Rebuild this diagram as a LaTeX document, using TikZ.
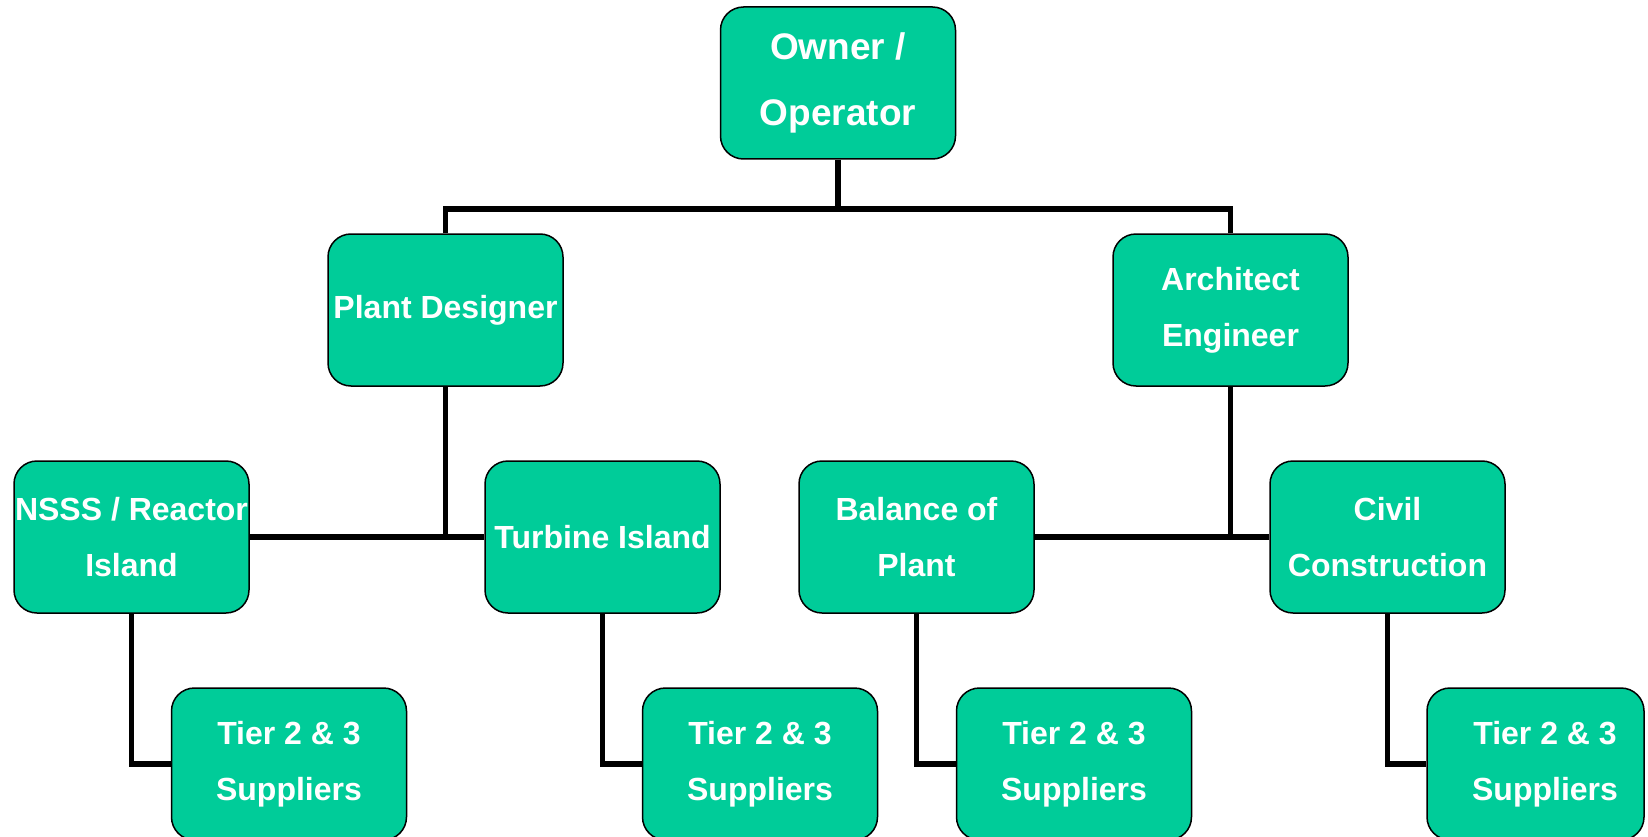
\documentclass[tikz,border=0pt]{standalone}
\usepackage{fontspec}
\setmainfont{Liberation Sans}
\definecolor{boxgreen}{RGB}{0,204,153}
\begin{document}
\begin{tikzpicture}[x=1pt,y=-1pt,
  orgbox/.style={draw=black, line width=1.5pt, fill=boxgreen, rounded corners=23pt,
    minimum width=235pt, minimum height=152pt, inner sep=0pt, align=center,
    text=white, font=\fontsize{32}{56}\selectfont\bfseries},
  bigtext/.style={font=\fontsize{37}{66}\selectfont\bfseries},
  conn/.style={draw=black, line width=5.5pt}]
\useasboundingbox (0,0) rectangle (1648,837);
\node[orgbox, bigtext] (own) at (838,83) {Owner /\\Operator};
\node[orgbox] (pd) at (445.5,310) {Plant Designer};
\node[orgbox] (ae) at (1230.5,310) {Architect\\Engineer};
\node[orgbox] (nsss) at (131.5,537) {NSSS / Reactor\\Island};
\node[orgbox] (turb) at (602.5,537) {Turbine Island};
\node[orgbox] (bop) at (916.5,537) {Balance of\\Plant};
\node[orgbox] (civ) at (1387.5,537) {Civil\\Construction};
\node[orgbox] (t1) at (289,764) {Tier 2 \& 3\\Suppliers};
\node[orgbox] (t2) at (760,764) {Tier 2 \& 3\\Suppliers};
\node[orgbox] (t3) at (1074,764) {Tier 2 \& 3\\Suppliers};
\node[orgbox, minimum width=217pt] (t4) at (1535.5,764) {};
\node[align=center, text=white, inner sep=0pt, font=\fontsize{32}{56}\selectfont\bfseries] (t4lab) at (1545,764) {Tier 2 \& 3\\Suppliers};
\coordinate (bus) at (838,209);
\coordinate (busend) at (838,211.75);
\draw[conn] (own.south) -- (busend);
\draw[conn] (pd.north) |- (bus) -| (ae.north);
\draw[conn] (pd.south) -- (pd.south |- nsss.east);
\draw[conn] (nsss.east) -- (turb.west);
\draw[conn] (ae.south) -- (ae.south |- bop.east);
\draw[conn] (bop.east) -- (civ.west);
\draw[conn] (nsss.south) |- (t1.west);
\draw[conn] (turb.south) |- (t2.west);
\draw[conn] (bop.south) |- (t3.west);
\draw[conn] (civ.south) |- (t4.west);
\end{tikzpicture}
\end{document}
